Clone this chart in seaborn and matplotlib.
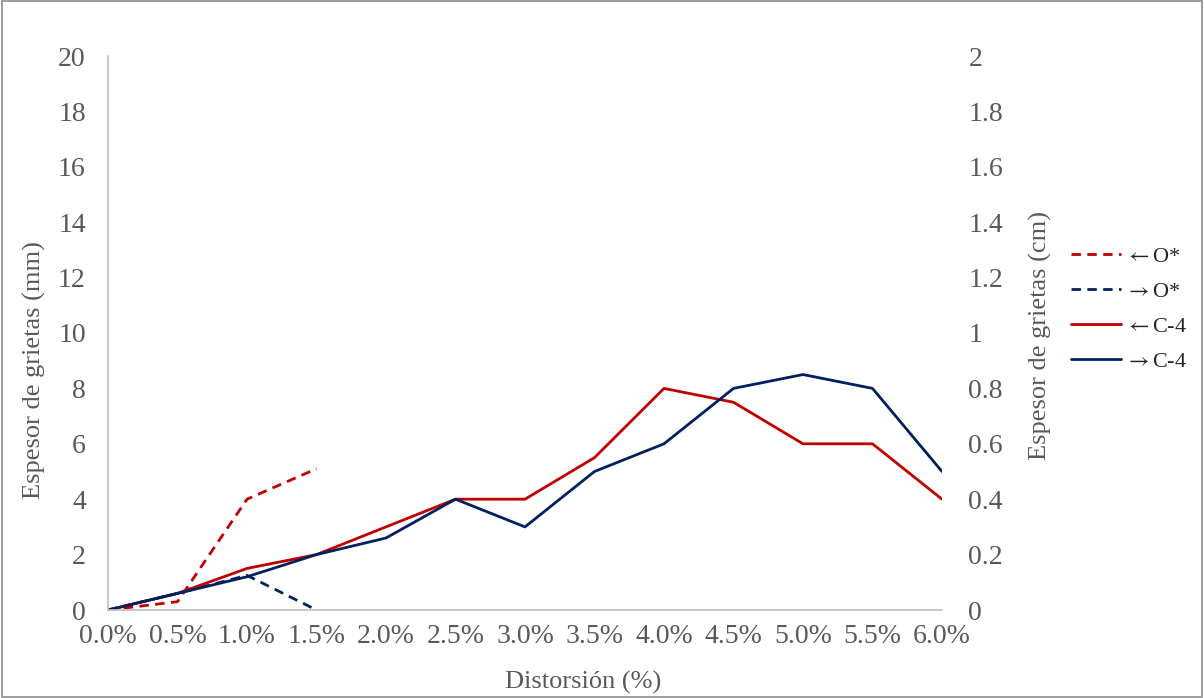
import matplotlib
matplotlib.use("Agg")
import matplotlib.pyplot as plt
import seaborn as sns
import pandas as pd
from matplotlib.patches import Rectangle

categories = ["0.0%", "0.5%", "1.0%", "1.5%", "2.0%", "2.5%", "3.0%",
              "3.5%", "4.0%", "4.5%", "5.0%", "5.5%", "6.0%"]
o_left = [0, 0.3, 4.0, 5.1]
o_right = [0, 0.6, 1.25, 0]
c4_left = [0, 0.6, 1.5, 2.0, 3.0, 4.0, 4.0, 5.5, 8.0, 7.5, 6.0, 6.0, 4.0]
c4_right = [0, 0.6, 1.2, 2.0, 2.6, 4.0, 3.0, 5.0, 6.0, 8.0, 8.5, 8.0, 5.0]
series_names = [r"$\leftarrow$O*", r"$\rightarrow$O*", r"$\leftarrow$C-4", r"$\rightarrow$C-4"]
left_ticks = [0, 2, 4, 6, 8, 10, 12, 14, 16, 18, 20]
right_ticks = [0, 0.2, 0.4, 0.6, 0.8, 1, 1.2, 1.4, 1.6, 1.8, 2]

sns.set_theme(style="white")
plt.rcParams['font.family'] = ['Liberation Serif', 'DejaVu Serif']
plt.rcParams['mathtext.fontset'] = 'stix'

RED = "#C00000"
NAVY = "#002060"
GREY = "#595959"

fig = plt.figure(figsize=(12.04, 6.98), dpi=100)
ax = fig.add_axes([108/1204, 1-610/698, (942-108)/1204, (610-56)/698])

data = [(o_left, RED, (3.4, 2.3)), (o_right, NAVY, (3.4, 2.3)),
        (c4_left, RED, None), (c4_right, NAVY, None)]
for (vals, col, dash), name in zip(data, series_names):
    df = pd.DataFrame({"x": list(range(len(vals))), "y": vals})
    sns.lineplot(data=df, x="x", y="y", ax=ax, color=col, linewidth=2.0,
                 label=name)
    if dash is not None:
        ax.lines[-1].set_dashes(dash)

ax.set_xlim(0, 12)
ax.set_ylim(0, 20)
ax.set_xticks(range(len(categories)))
ax.set_xticklabels(categories)
ax.set_yticks(left_ticks)
ax.set_yticklabels([str(t) for t in left_ticks])
ax.tick_params(axis="both", length=0, labelsize=20, labelcolor=GREY)
ax.tick_params(axis="y", pad=16)
ax.tick_params(axis="x", pad=10)
for s in ["top", "right"]:
    ax.spines[s].set_visible(False)
for s in ["left", "bottom"]:
    ax.spines[s].set_color("#BFBFBF")
    ax.spines[s].set_linewidth(1.2)
ax.set_xlabel("Distorsión (%)", fontsize=19, color=GREY)
ax.xaxis.label.set_va("center")
ax.xaxis.set_label_coords((583-108)/834, (610-682)/554)
ax.set_ylabel("Espesor de grietas (mm)", fontsize=19, color=GREY)
ax.yaxis.label.set_va("center")
ax.yaxis.set_label_coords((34-108)/834, (610-370)/554)
ax.grid(False)

ax2 = ax.twinx()
ax2.set_ylim(0, 2)
ax2.set_yticks(right_ticks)
ax2.set_yticklabels([("%g" % t) for t in right_ticks])
ax2.tick_params(axis="y", length=0, labelsize=20, labelcolor=GREY, pad=19)
for s in ax2.spines.values():
    s.set_visible(False)
ax2.set_ylabel("Espesor de grietas (cm)", fontsize=19, color=GREY)
ax2.yaxis.label.set_va("center")
ax2.yaxis.set_label_coords((1040-108)/834, (610-335)/554)
ax2.grid(False)

handles, labels = ax.get_legend_handles_labels()
if ax.legend_:
    ax.legend_.remove()
leg = fig.legend(handles, labels, loc="upper left",
                 bbox_to_anchor=(1071/1204, 1-246/698), frameon=False,
                 fontsize=16, handlelength=2.25, labelspacing=0.66,
                 handletextpad=0.2, borderaxespad=0, borderpad=0)
for t in leg.get_texts():
    t.set_color("#262626")

fig.patches.append(Rectangle((0.002, 0.002), 0.996, 0.996, transform=fig.transFigure,
                             fill=False, edgecolor="#8C8C8C", linewidth=1.2))

fig.savefig("out.png", dpi=100)
